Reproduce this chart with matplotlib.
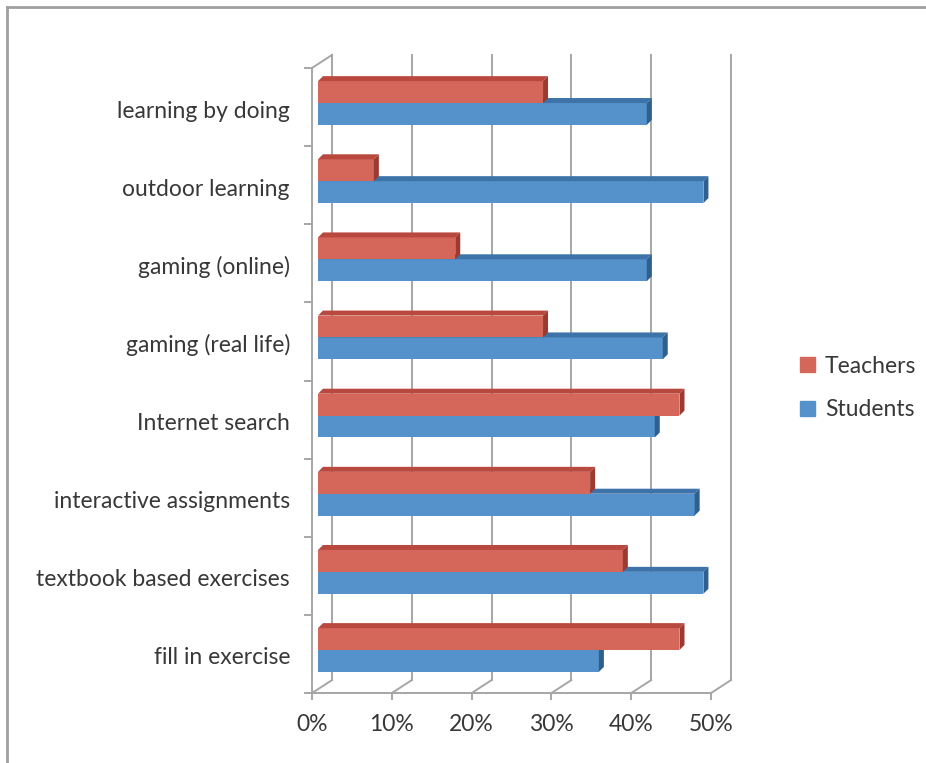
import matplotlib
matplotlib.use('Agg')
import matplotlib.pyplot as plt
from matplotlib.patches import Polygon, Patch
from matplotlib.lines import Line2D

plt.rcParams['font.family'] = ['Lato', 'DejaVu Sans']

# data (percent), bottom to top
categories = ["fill in exercise", "textbook based exercises", "interactive assignments",
              "Internet search", "gaming (real life)", "gaming (online)",
              "outdoor learning", "learning by doing"]
teachers = [45.3, 38.2, 34.1, 45.3, 28.2, 17.2, 7.0, 28.2]
students = [35.2, 48.3, 47.2, 42.2, 43.2, 41.2, 48.3, 41.2]
xticks = [0, 10, 20, 30, 40, 50]
xticklabels = ['0%', '10%', '20%', '30%', '40%', '50%']

W, H = 926, 763
fig = plt.figure(figsize=(W / 100, H / 100), dpi=100)
ax = fig.add_axes([0, 0, 1, 1])

# map data to pixels: x px = 312 + 7.98*x, y px (from top) = 654 - 78.14*i
px_x, x0 = 7.98, 312
px_y, y0 = 78.14, 654
ax.set_xlim(-x0 / px_x, (W - x0) / px_x)
ax.set_ylim((y0 - H) / px_y, y0 / px_y)
ax.axis('off')

# 3d look: wall depth, bar offset and bar depth (data units)
dx, dy = 20 / px_x, 13 / px_y
bx, by = 6 / px_x, 4 / px_y
bdx, bdy = 5 / px_x, 5 / px_y
h = 0.28
grid = '#a6a6a6'
lw = 1.4
txt = '#383838'
fs = 16.5

ylo, yhi = -0.5, len(categories) - 0.5
# back wall gridlines
for t in xticks:
    ax.plot([t + dx, t + dx], [ylo + dy, yhi + dy], color=grid, lw=lw, zorder=1)
    ax.plot([t, t + dx], [ylo, ylo + dy], color=grid, lw=lw, zorder=1)
    ax.plot([t, t], [ylo, ylo - 6 / px_y], color=grid, lw=lw, zorder=1)
    ax.text(t, ylo - 31 / px_y, xticklabels[xticks.index(t)], ha='center', va='center',
            fontsize=fs, color=txt)
# floor front line and left wall
ax.plot([0, xticks[-1]], [ylo, ylo], color=grid, lw=lw, zorder=1)
ax.plot([0, 0], [ylo, yhi], color=grid, lw=lw, zorder=1)
ax.plot([0, dx], [yhi, yhi + dy], color=grid, lw=lw, zorder=1)
for k in range(len(categories) + 1):
    ax.plot([-7 / px_x, 0], [ylo + k, ylo + k], color=grid, lw=lw, zorder=1)


def bar3d(y, vals, front, top, side):
    ax.barh([i + by + y for i in range(len(vals))], vals, left=bx, height=h,
            align='edge', color=front, zorder=3)
    for i, v in enumerate(vals):
        yb = i + by + y
        ax.add_patch(Polygon([(bx, yb + h), (bx + v, yb + h), (bx + v + bdx, yb + h + bdy),
                              (bx + bdx, yb + h + bdy)], closed=True, color=top, lw=0, zorder=3))
        ax.add_patch(Polygon([(bx + v, yb), (bx + v, yb + h), (bx + v + bdx, yb + h + bdy),
                              (bx + v + bdx, yb + bdy)], closed=True, color=side, lw=0, zorder=3))


bar3d(-h, students, '#5592cb', '#3d73a9', '#2e5f8f')
bar3d(0, teachers, '#d4665a', '#b9493f', '#9c3a31')

for i, c in enumerate(categories):
    ax.text((290 - x0) / px_x, i - 4 / px_y, c, ha='right', va='center', fontsize=fs, color=txt)

fig.legend([Patch(color='#d4665a'), Patch(color='#5592cb')], ['Teachers', 'Students'],
           loc='center left', bbox_to_anchor=(779 / W, 1 - 388 / H), frameon=False,
           handlelength=0.65, handleheight=0.65, handletextpad=0.45, labelspacing=1.0,
           fontsize=fs, labelcolor=txt)

# outer frame (top and left)
fig.add_artist(Line2D([7 / W, 1], [1 - 7 / H, 1 - 7 / H], color='#a0a0a0', lw=2))
fig.add_artist(Line2D([7 / W, 7 / W], [0, 1 - 7 / H], color='#a0a0a0', lw=2))

fig.savefig('out.png', dpi=100)
